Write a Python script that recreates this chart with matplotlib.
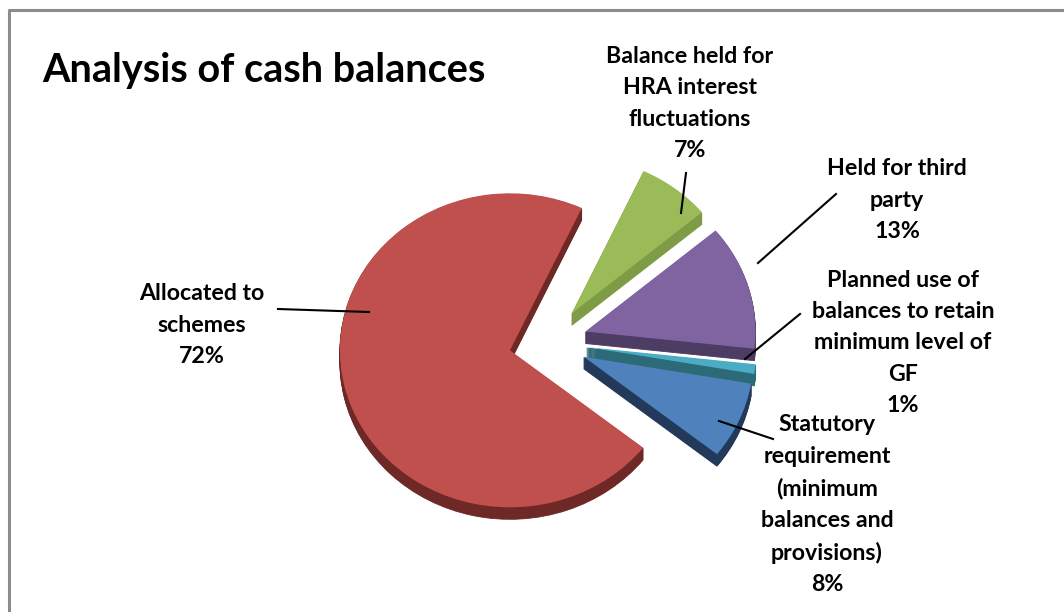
import matplotlib.pyplot as plt
from matplotlib.lines import Line2D

# data
labels = ['Balance held for\nHRA interest\nfluctuations',
          'Held for third\nparty',
          'Planned use of\nbalances to retain\nminimum level of\nGF',
          'Statutory\nrequirement\n(minimum\nbalances and\nprovisions)',
          'Allocated to\nschemes']
values = [7, 13, 1, 8, 72]   # percent as shown on the chart
top_colors = ['#9BBB59', '#8064A2', '#4BACC6', '#4F81BD', '#C0504D']
side_colors = ['#7E9B45', '#4D3C63', '#2B6A76', '#23395A', '#6E2826']

# pixel layout of the 3d pie (centre, radii, thickness)
cx, cy, rx, ry = 548, 342, 170, 157
depth = 12

def px(x, y):
    return (x - cx) / rx, (cy - y) / ry

plt.rcParams['font.family'] = ['Lato', 'DejaVu Sans']
fig = plt.figure(figsize=(10.64, 6.12), dpi=100)
ax = fig.add_axes([0, 0, 1, 1])

# side of the pie: stack of darker copies shifted downwards
for i in range(depth, 0, -1):
    wedges, _ = ax.pie(values, colors=side_colors, startangle=65,
                       counterclock=False, explode=[0.23] * len(values),
                       center=(0, -i / ry), wedgeprops=dict(linewidth=0.6))
    for w in wedges:
        w.set_edgecolor(w.get_facecolor())
# top face
ax.pie(values, colors=top_colors, startangle=65, counterclock=False,
       explode=[0.23] * len(values), wedgeprops=dict(linewidth=0))

ax.set_aspect('auto')
ax.set_xlim(px(0, 0)[0], px(1064, 0)[0])
ax.set_ylim(px(0, 612)[1], px(0, 0)[1])
ax.axis('off')

# labels: text centre x, last baseline y, leader line start/end (pixels)
label_pos = [(690, 157), (897, 238), (903, 412), (827, 591), (202, 363)]
leaders = [((686, 173), (681, 213)),
           ((836, 194), (758, 263)),
           ((800, 314), (745, 359)),
           ((773, 439), (719, 421)),
           ((278, 309), (369, 312))]

for lab, v, (tx, ty), (p0, p1) in zip(labels, values, label_pos, leaders):
    txt = lab + '\n%d%%' % v
    x, y = px(tx, ty)
    ax.text(x, y, txt, ha='center', va='baseline', ma='center',
            fontsize=16.7, fontweight='bold', linespacing=1.61,
            color='#000000')
    a, b = px(*p0), px(*p1)
    ax.plot([a[0], b[0]], [a[1], b[1]], color='black', lw=1.5)

# title
ax.text(*px(42, 82), 'Analysis of cash balances', ha='left', va='baseline',
        fontsize=28.5, fontweight='bold', color='#000000')

# chart border (top and left edges only are in view)
W, H = 1064, 612
fig.lines.append(Line2D([9 / W, 9 / W, 1], [0, 1 - 10 / H, 1 - 10 / H],
                        transform=fig.transFigure, color='#8C8C8C', lw=2.2))

fig.savefig('out.png', dpi=100)
